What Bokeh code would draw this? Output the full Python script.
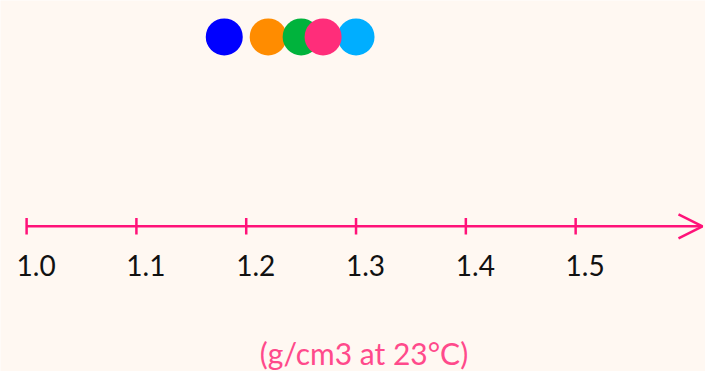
from bokeh.plotting import figure
from bokeh.models import Range1d, ColumnDataSource, Arrow, OpenHead
from bokeh.core.properties import value
from bokeh.embed import file_html
from bokeh.resources import INLINE

# ---- data ----
densities = [1.18, 1.22, 1.30, 1.25, 1.27]
dot_colors = ["#0000FF", "#FF8C00", "#00AEFF", "#00B33C", "#FF2D7A"]
tick_values = [1.0, 1.1, 1.2, 1.3, 1.4, 1.5]
tick_labels = ["1.0", "1.1", "1.2", "1.3", "1.4", "1.5"]
axis_title = "(g/cm3 at 23°C)"

# ---- layout constants (pixel-like y units) ----
W, H = 705, 371
BG = "#FFF8F2"
AXIS_COLOR = "#FF1279"
TITLE_COLOR = "#FF4A8B"
PX_PER_UNIT = 1098.1
X0 = 0.97623
X1 = X0 + W / PX_PER_UNIT
X_TIP = X0 + 702 / PX_PER_UNIT
Y_DOTS = 334.6
Y_AXIS = 145.2
TICK_HALF = 8.3
Y_LABELS = 106.4
Y_TITLE = 18.2

p = figure(width=W, height=H, output_backend="svg", toolbar_location=None,
           x_range=Range1d(X0, X1), y_range=Range1d(0, H),
           min_border=0, background_fill_color=BG, border_fill_color=BG,
           outline_line_color=None)
p.axis.visible = False
p.grid.visible = False

# axis line with arrow head
p.add_layout(Arrow(end=OpenHead(size=24, line_color=AXIS_COLOR, line_width=2.5),
                   x_start=tick_values[0], y_start=Y_AXIS, x_end=X_TIP, y_end=Y_AXIS,
                   line_color=AXIS_COLOR, line_width=2.5))

# ticks
tsrc = ColumnDataSource(dict(x=tick_values, lab=tick_labels,
                             y0=[Y_AXIS - TICK_HALF] * len(tick_values),
                             y1=[Y_AXIS + TICK_HALF] * len(tick_values),
                             yl=[Y_LABELS] * len(tick_values)))
p.segment(x0="x", x1="x", y0="y0", y1="y1", source=tsrc,
          line_color=AXIS_COLOR, line_width=2.5)
p.text(x="x", y="yl", text="lab", source=tsrc, x_offset=9.5,
       text_align="center", text_baseline="middle",
       text_font=value("Lato"), text_font_size="28px", text_color="#111111")

# dots
dsrc = ColumnDataSource(dict(x=densities, y=[Y_DOTS] * len(densities), c=dot_colors))
p.scatter(x="x", y="y", size=37, fill_color="c", line_color=None, source=dsrc)

# axis title
p.text(x=[(X0 + X1) / 2], y=[Y_TITLE], text=[axis_title], x_offset=11,
       text_align="center", text_baseline="middle",
       text_font=value("Lato"), text_font_size="30px", text_color=TITLE_COLOR)

open("out.html", "w").write(file_html(p, INLINE))
